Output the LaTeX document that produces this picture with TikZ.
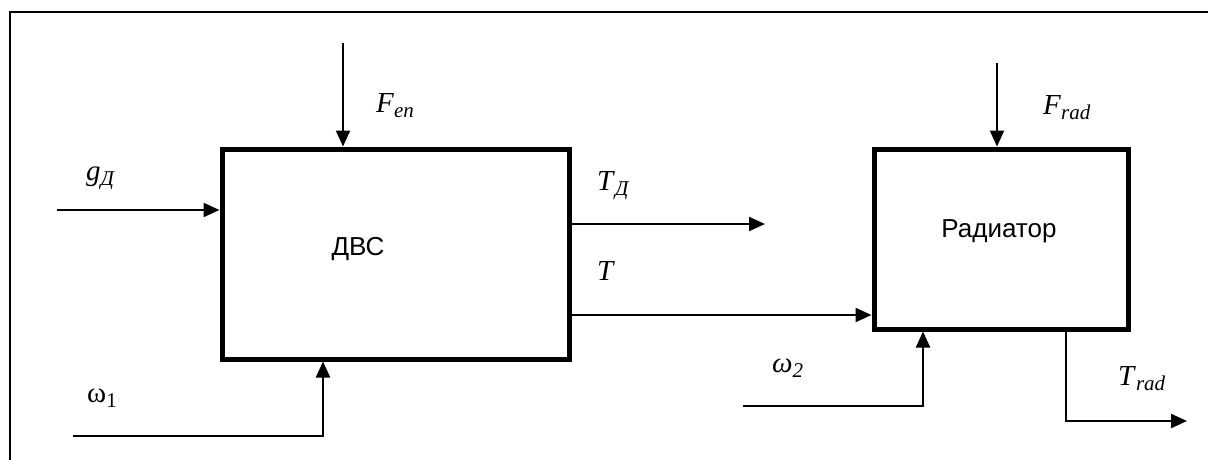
\documentclass[tikz,border=0pt]{standalone}
\usepackage{fontspec}
\setmainfont{Liberation Serif}
\newfontfamily\arialf{Liberation Sans}
\usetikzlibrary{arrows.meta}
\newcommand{\sublbl}[2]{\fontsize{29}{29}\selectfont\textit{#1}\raisebox{-5pt}{\fontsize{21}{21}\selectfont\textit{#2}}}
\begin{document}
\begin{tikzpicture}[x=1pt,y=-1pt,
  blk/.style={draw, line width=5pt, inner sep=0pt},
  blktext/.style={font=\arialf\fontsize{26}{26}\selectfont},
  arr/.style={line width=2.2pt, -{Triangle[length=16pt,width=14pt]}},
  lbl/.style={anchor=base west, inner sep=0pt}]
\useasboundingbox (0,0) rectangle (1208,459);
\draw[line width=2.3pt] (10,475) -- (10,12) -- (1225,12);
\node[blk, minimum width=347pt, minimum height=210pt] (dvs) at (395.5,254) {};
\node[blk, minimum width=254pt, minimum height=180pt] (rad) at (1001,239) {};
\node[blktext] (dvst) at (358,249) {ДВС};
\node[blktext] (radt) at (999,231) {Радиатор};
% connectors
\coordinate (fen) at (343,43);
\draw[arr] (fen) -- (fen |- dvs.north);
\coordinate (gin) at (57,210);
\draw[arr] (gin) -- (gin -| dvs.west);
\coordinate (td) at (765,224);
\draw[arr] (td -| dvs.east) -- (td);
\coordinate (tl) at (600,315);
\draw[arr] (tl -| dvs.east) -- (tl -| rad.west);
\coordinate (w1) at (73,436);
\coordinate (w1c) at (323,436);
\draw[arr] (w1) -- (w1c) -- (w1c |- dvs.south);
\coordinate (w2) at (743,406);
\coordinate (w2c) at (923,406);
\draw[arr] (w2) -- (w2c) -- (w2c |- rad.south);
\coordinate (frad) at (997,63);
\draw[arr] (frad) -- (frad |- rad.north);
\coordinate (trc) at (1066,421);
\coordinate (tre) at (1187,421);
\draw[arr] (trc |- rad.south) -- (trc) -- (tre);
% labels
\node[lbl] (lg) at (86,180) {\sublbl{g}{Д}};
\node[lbl] (lfen) at (376,112) {\sublbl{F}{en}};
\node[lbl] (ltd) at (597,190) {\sublbl{T}{Д}};
\node[lbl] (lt) at (597,280) {\fontsize{29}{29}\selectfont\textit{T}};
\node[lbl] (lw1) at (87,402) {\fontsize{29}{29}\selectfont ω\raisebox{-5pt}{\fontsize{21}{21}\selectfont 1}};
\node[lbl] (lw2) at (772,372) {\sublbl{ω}{2}};
\node[lbl] (ltrad) at (1118,385) {\sublbl{T}{rad}};
\node[lbl] (lfrad) at (1043,114) {\sublbl{F}{rad}};
\end{tikzpicture}
\end{document}
